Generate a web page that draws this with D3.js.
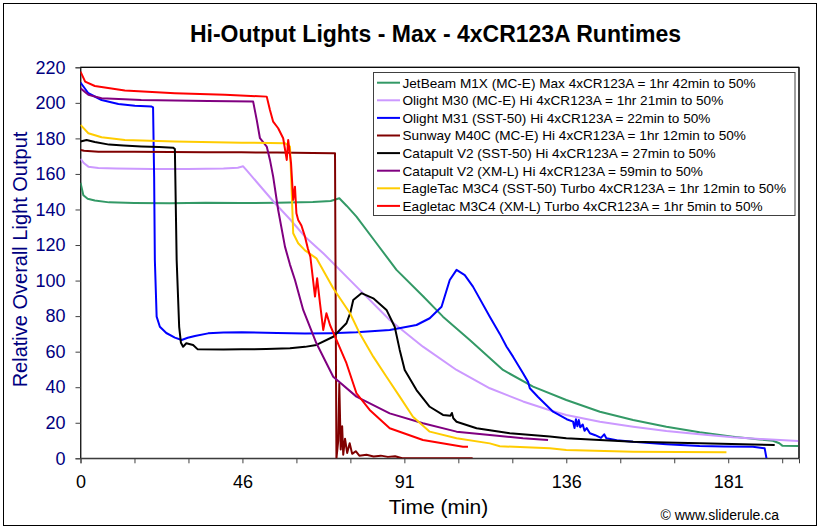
<!DOCTYPE html>
<html>
<head>
<meta charset="utf-8">
<script src="https://cdn.jsdelivr.net/npm/d3@7"></script>
<style>
  html, body { margin: 0; padding: 0; background: #ffffff; }
  svg { display: block; font-family: Arial, "Liberation Sans", sans-serif; }
</style>
</head>
<body>
<svg id="chart" width="822" height="530"></svg>
<script>
// ---------------- DATA ----------------
const chartTitle = "Hi-Output Lights - Max - 4xCR123A Runtimes";
const xAxisTitle = "Time (min)";
const yAxisTitle = "Relative Overall Light Output";
const creditText = "\u00A9 www.sliderule.ca";

const yTickValues = [0, 20, 40, 60, 80, 100, 120, 140, 160, 180, 200, 220];
const xTickStep = 15.1;                 // minutes between tick marks
const xTickCount = 14;                  // number of tick marks
const xTickLabels = ["0", "46", "91", "136", "181"]; // every 3rd tick

const seriesNames = [
  "JetBeam M1X (MC-E) Max 4xCR123A = 1hr 42min to 50%",
  "Olight M30 (MC-E) Hi 4xCR123A = 1hr 21min to 50%",
  "Olight M31 (SST-50) Hi 4xCR123A = 22min to 50%",
  "Sunway M40C (MC-E) Hi 4xCR123A = 1hr 12min to 50%",
  "Catapult V2 (SST-50) Hi 4xCR123A = 27min to 50%",
  "Catapult V2 (XM-L) Hi 4xCR123A = 59min to 50%",
  "EagleTac M3C4 (SST-50) Turbo 4xCR123A = 1hr 12min to 50%",
  "Eagletac M3C4 (XM-L) Turbo 4xCR123A = 1hr 5min to 50%"
];

// [minutes, relative output]
const jetbeamM1X = [[0,155],[0.8,148],[2,146],[4,145],[8,144],[15,143.7],[25,143.5],[35,143.8],[45,143.6],[55,143.8],[65,144.2],[70,144.8],[72.4,146.3],[74.5,142],[77.2,136],[82.8,121],[88.4,106],[95.9,91],[101.4,79.7],[108.9,66.6],[118.2,49.7],[126.6,40.3],[135.9,32.8],[145.3,26.2],[154.6,21.6],[163.9,17.8],[173.2,14.6],[182.5,12.2],[190,10.6],[193.7,9.9],[195.5,8.5],[196.4,7],[200.8,6.9]];
const olightM30 = [[0,168.5],[1,166],[2.2,164.1],[5,163.3],[10,163],[20,162.8],[30,162.8],[40,163],[44,163.5],[45.5,164.3],[46.5,162],[54.4,143.5],[58.6,134.5],[62.8,124.7],[67.9,115.4],[77.2,96.6],[86.5,77.8],[95.8,62.8],[105.2,49.7],[114.5,39.4],[123.8,32],[131.3,27],[135.9,24.4],[145.3,20.6],[154.6,17.8],[163.9,15.4],[173.2,13.5],[182.5,11.8],[191.9,10.7],[200.8,9.7]];
const olightM31 = [[0,211.4],[2.2,205.4],[5.9,201.6],[10.6,199.4],[15.2,198.3],[19.9,197.9],[20.3,197.5],[20.6,158.5],[20.8,111.6],[21.3,79.7],[22.2,74],[24,70.5],[26.4,67.9],[28.3,66.6],[30,67.8],[32,68.8],[35.7,70.3],[40,70.8],[45.1,70.9],[55,70.5],[62.8,70.2],[70,70.4],[77.2,70.9],[86.5,72.2],[94,75],[97.7,78.8],[101,85.3],[103.3,100.3],[105.2,106],[107.5,103.1],[109.8,96.6],[114.5,79.7],[117.3,70],[119.2,62.8],[121,57.2],[123.8,47.8],[125.2,43],[125.7,39.4],[128,34.5],[132.2,26.2],[136,22],[137.8,20.6],[138.2,17],[138.6,22],[139,18],[139.4,21.5],[139.8,17.5],[140.5,19],[141,15.5],[141.6,17],[142.5,14.1],[144,13],[145.6,11.5],[146.5,13.5],[147.1,11.3],[150,10.2],[154.6,9.3],[163.9,7.9],[173.2,6.9],[180,6.7],[188.1,6.5],[191.4,5.6],[191.9,0]];
const sunwayM40C = [[0,173.5],[1,173],[5,172.5],[15,172.5],[25,172.3],[35,172.2],[45,172.2],[55,172],[65,171.8],[70.7,171.6],[71.2,171.6],[71.4,80],[71.6,0],[72.1,10],[72.4,42],[72.8,5],[73.2,18],[73.5,2],[74,11],[74.6,3],[75.3,8.5],[76,2.5],[77,4],[78,1.5],[80,2],[82,1],[84,1.5],[86,0.8],[88,1.2],[90,0],[109.7,0]];
const catapultSST50 = [[0,178.2],[1.7,179.1],[4,178],[8,176.5],[12,176],[17,175.5],[22,175.2],[25.9,174.8],[26.4,174],[26.9,111.6],[27.6,74],[28.1,65],[28.7,62.8],[29.6,64.7],[31.5,63.8],[32.8,61.3],[40,61.2],[45.1,61.3],[52,61.5],[58.6,61.9],[62.8,62.7],[66,63.8],[70.7,68.4],[74.4,76],[75.5,82],[76.3,89.1],[78.6,92.9],[81.9,90],[85.6,83.5],[87.9,74],[89.3,61],[90.7,49.7],[94,38.4],[97.7,29],[101.4,24.4],[103.5,24],[103.9,25.5],[104.3,22.5],[105.2,20.6],[110.8,16.9],[120.1,14.1],[131.3,12.3],[135.9,11.3],[154.6,9.3],[173.2,8.4],[194.2,7.5]];
const catapultXML = [[0,208.2],[2.2,204.5],[5.9,202.6],[17,201.6],[35.7,201.1],[48.3,200.7],[49.3,190.4],[50.2,180.1],[52.1,175.4],[53,167.9],[53.9,158.5],[55.3,139.7],[57.2,119.1],[58.6,109],[60,100.3],[62.3,83.5],[66,64.7],[70.7,45.9],[77.2,34.7],[86.5,25.3],[95.8,19.7],[105.2,15],[114.5,13.1],[123.8,11.3],[130.8,10.3]];
const eagletacSST50 = [[0,187.6],[2.2,182.9],[5.9,180.6],[12.4,179.1],[26.4,178.2],[45.1,177.6],[57.2,177.3],[58.6,175.4],[59.1,149.1],[59.5,126.6],[60.9,121],[62.8,117],[66,112.5],[70.7,95.7],[75.4,81.6],[78.1,70.3],[81.9,57.2],[85.6,45.9],[89.3,34.7],[93,23.4],[97.7,15],[105.2,11.3],[114.5,8.4],[117.3,6.8],[131.3,5.6],[135.9,4.7],[154.6,3.7],[180.7,3.4]];
const eagletacXML = [[0,217.6],[1.3,211.9],[4,209.5],[12.4,206.9],[26.4,205.4],[40.4,204.5],[52.1,203.5],[53,196],[53.9,189.4],[55.3,185.7],[56.7,180.1],[57.7,167.9],[58.1,179.1],[58.9,166],[59.5,145.4],[60,152.8],[60.4,137.9],[60.9,134.1],[61.8,131],[62.8,124.7],[63.6,118],[64.3,113.4],[65.6,91],[66.2,101.3],[67,87.2],[67.9,72.2],[68.8,81.6],[69.8,75],[71.6,66.6],[74.4,53.5],[77.2,36.6],[80.9,27.2],[86.5,16.9],[95.8,10.3],[107,6.5],[108.4,6.5]];

const seriesData = [jetbeamM1X, olightM30, olightM31, sunwayM40C, catapultSST50, catapultXML, eagletacSST50, eagletacXML];
const seriesColors = ["#339966", "#CC99FF", "#0000FF", "#800000", "#000000", "#800080", "#FFCC00", "#FF0000"];

// ---------------- LAYOUT ----------------
const plot = { left: 80.5, right: 799, top: 67.3, bottom: 458.3 };
const svg = d3.select("#chart");
const FONT = "Arial, 'Liberation Sans', sans-serif";

// outer chart border
svg.append("rect").attr("x", 3.5).attr("y", 3.5).attr("width", 813).attr("height", 522)
  .attr("fill", "#ffffff").attr("stroke", "#000000").attr("stroke-width", 1);

const x = d3.scaleLinear().domain([0, 201]).range([plot.left, plot.right]);
const y = d3.scaleLinear().domain([0, 220]).range([plot.bottom, plot.top]);

// plot area
svg.append("rect").attr("x", plot.left).attr("y", plot.top)
  .attr("width", plot.right - plot.left).attr("height", plot.bottom - plot.top)
  .attr("fill", "#ffffff").attr("stroke", "#000000").attr("stroke-width", 1);

// clip
svg.append("clipPath").attr("id", "clip").append("rect")
  .attr("x", plot.left).attr("y", plot.top - 1)
  .attr("width", plot.right - plot.left).attr("height", plot.bottom - plot.top + 1);

// Y axis
const yAxis = d3.axisLeft(y).tickValues(yTickValues).tickSize(5).tickPadding(10);
const gy = svg.append("g").attr("transform", `translate(${plot.left},0)`).call(yAxis);
gy.select(".domain").attr("stroke", "#404040");
gy.selectAll(".tick line").attr("stroke", "#404040");
gy.selectAll(".tick text").attr("fill", "#000080").style("font-size", "18px").style("font-family", FONT);

// X axis
const xTicks = d3.range(xTickCount).map(i => i * xTickStep);
const xAxis = d3.axisBottom(x).tickValues(xTicks).tickSize(5).tickPadding(12)
  .tickFormat((d, i) => (i % 3 === 0 && xTickLabels[i / 3] !== undefined) ? xTickLabels[i / 3] : "");
const gx = svg.append("g").attr("transform", `translate(0,${plot.bottom})`).call(xAxis);
gx.select(".domain").attr("stroke", "#404040");
gx.selectAll(".tick line").attr("stroke", "#404040");
gx.selectAll(".tick text").attr("fill", "#000000").style("font-size", "18px").style("font-family", FONT);

// lines
const line = d3.line().x(d => x(d[0])).y(d => y(d[1]));
const gLines = svg.append("g").attr("clip-path", "url(#clip)");
seriesData.forEach((data, i) => {
  gLines.append("path").datum(data)
    .attr("fill", "none").attr("stroke", seriesColors[i])
    .attr("stroke-width", 2).attr("stroke-linejoin", "round")
    .attr("d", line);
});

// redraw top/right frame above lines
svg.append("line").attr("x1", plot.left).attr("x2", plot.right).attr("y1", plot.top).attr("y2", plot.top).attr("stroke", "#000");
svg.append("line").attr("x1", plot.right).attr("x2", plot.right).attr("y1", plot.top).attr("y2", plot.bottom).attr("stroke", "#000");

// Legend
const legend = svg.append("g");
const lg = { x: 373.5, y: 72.5, w: 421.5, h: 143, row0: 82.7, rowStep: 17.6 };
legend.append("rect").attr("x", lg.x).attr("y", lg.y).attr("width", lg.w).attr("height", lg.h)
  .attr("fill", "#ffffff").attr("stroke", "#404040").attr("stroke-width", 1);
seriesNames.forEach((name, i) => {
  const cy = lg.row0 + i * lg.rowStep;
  legend.append("line").attr("x1", 377).attr("x2", 400).attr("y1", cy).attr("y2", cy)
    .attr("stroke", seriesColors[i]).attr("stroke-width", 2);
  legend.append("text").attr("x", 402.5).attr("y", cy).attr("dy", "0.36em")
    .style("font-size", "13.6px").attr("fill", "#000").text(name);
});

// Titles
svg.append("text").attr("x", 435.5).attr("y", 42).attr("text-anchor", "middle")
  .style("font-size", "23px").style("font-weight", "bold").attr("fill", "#000").text(chartTitle);
svg.append("text").attr("x", 438.5).attr("y", 514).attr("text-anchor", "middle")
  .style("font-size", "21px").attr("fill", "#000").text(xAxisTitle);
svg.append("text").attr("transform", "translate(27,259.5) rotate(-90)").attr("text-anchor", "middle")
  .style("font-size", "20px").attr("fill", "#000080").text(yAxisTitle);
svg.append("text").attr("x", 779).attr("y", 520).attr("text-anchor", "end")
  .style("font-size", "14px").attr("fill", "#000").text(creditText);
</script>
</body>
</html>
